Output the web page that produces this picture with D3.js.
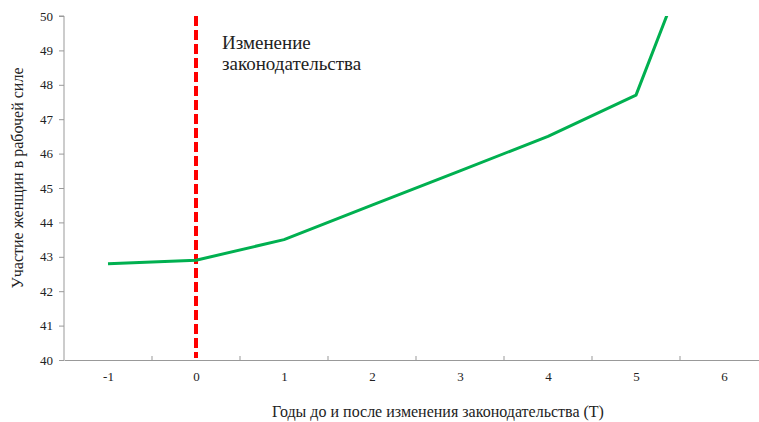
<!DOCTYPE html>
<html>
<head>
<meta charset="utf-8">
<script src="https://cdn.jsdelivr.net/npm/d3@7"></script>
<style>
  body { margin: 0; background: #fff; }
</style>
</head>
<body>
<div id="container"></div>
<script>
const width = 759, height = 422;
const serif = "'Liberation Serif', 'Times New Roman', serif";

// data
const years = [-1, 0, 1, 2, 3, 4, 5, 6];
const participation = [42.8, 42.9, 43.5, 44.5, 45.5, 46.5, 47.7, 54.3];
const xTicks = [-1, 0, 1, 2, 3, 4, 5, 6];
const yTicks = [40, 41, 42, 43, 44, 45, 46, 47, 48, 49, 50];
const reformYear = 0;

const data = years.map((y, i) => ({ year: y, value: participation[i] }));

const x = d3.scaleLinear().domain([-1.5, 6.5]).range([64, 768]);
const y = d3.scaleLinear().domain([40, 50]).range([360, 16]);

const svg = d3.select("#container")
  .append("svg")
  .attr("width", width)
  .attr("height", height)
  .style("font-family", serif);

svg.append("defs").append("clipPath")
  .attr("id", "plot")
  .append("rect")
  .attr("x", 64).attr("y", 16)
  .attr("width", 705).attr("height", 344);

// y axis
svg.append("g")
  .attr("transform", `translate(${x(-1.5)},0)`)
  .call(d3.axisLeft(y).tickValues(yTicks).tickSize(5).tickPadding(6))
  .call(g => g.attr("font-family", null))
  .call(g => g.select(".domain").attr("stroke", "#999").attr("d", `M-5,${y(50)}H0V${y(40)}`))
  .call(g => g.selectAll(".tick line").attr("stroke", "#999"))
  .call(g => g.selectAll(".tick text").attr("fill", "#222").style("font-family", serif).style("font-size", "13px"));

// x axis, labels at integers, ticks between them
svg.append("g")
  .attr("transform", `translate(0,${y(40)})`)
  .call(d3.axisBottom(x).tickValues(xTicks).tickFormat(d => String(d)).tickSize(0).tickPadding(12))
  .call(g => g.attr("font-family", null))
  .call(g => g.select(".domain").attr("stroke", "#999"))
  .call(g => g.selectAll(".tick text").attr("fill", "#222").style("font-family", serif).style("font-size", "13px"));

svg.append("g")
  .selectAll("line")
  .data(d3.range(-0.5, 6.5, 1))
  .join("line")
  .attr("x1", d => x(d)).attr("x2", d => x(d))
  .attr("y1", y(40)).attr("y2", y(40) - 4)
  .attr("stroke", "#999");

// reform line
svg.append("line")
  .attr("x1", x(reformYear)).attr("x2", x(reformYear))
  .attr("y1", y(50)).attr("y2", y(40) - 2)
  .attr("stroke", "#ff0000")
  .attr("stroke-width", 4)
  .attr("stroke-dasharray", "10,4");

// participation line
const line = d3.line()
  .x(d => x(d.year))
  .y(d => y(d.value));

svg.append("path")
  .datum(data)
  .attr("clip-path", "url(#plot)")
  .attr("fill", "none")
  .attr("stroke", "#00b050")
  .attr("stroke-width", 3)
  .attr("stroke-linejoin", "round")
  .attr("d", line);

// annotation
svg.append("text")
  .attr("x", 222).attr("y", 49)
  .attr("fill", "#222")
  .style("font-size", "19px")
  .text("Изменение");
svg.append("text")
  .attr("x", 222).attr("y", 70)
  .attr("fill", "#222")
  .style("font-size", "19px")
  .text("законодательства");

// axis titles
svg.append("text")
  .attr("x", 438).attr("y", 417)
  .attr("text-anchor", "middle")
  .attr("fill", "#222")
  .style("font-size", "16px")
  .text("Годы до и после изменения законодательства (T)");

svg.append("text")
  .attr("transform", "rotate(-90)")
  .attr("x", -178).attr("y", 23)
  .attr("text-anchor", "middle")
  .attr("fill", "#222")
  .style("font-size", "16px")
  .text("Участие женщин в рабочей силе");
</script>
</body>
</html>
